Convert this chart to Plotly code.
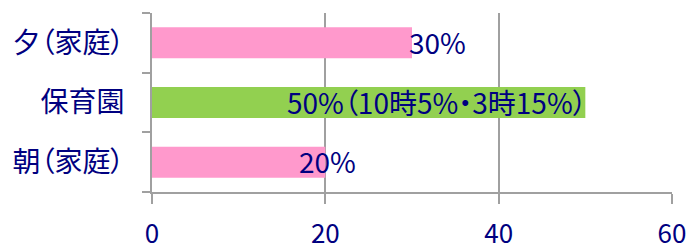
import plotly.graph_objects as go

categories = ["朝（家庭）", "保育園", "夕（家庭）"]
values = [20, 50, 30]
bar_colors = ["#FF99CC", "#92D050", "#FF99CC"]
labels = ["20%", "50%（10時5%・3時15%）", "30%"]
x_ticks = [0, 20, 40, 60]

FONT = "Noto Sans CJK JP"
NAVY = "#000080"
GRAY = "#A0A0A0"


def palt(s):
    return "<span style=\"font-feature-settings:'palt'\">" + s + "</span>"


fig = go.Figure(go.Bar(
    x=values, y=categories, orientation="h",
    marker=dict(color=bar_colors, line=dict(width=0)),
    width=0.52, hoverinfo="skip",
))

label_style = [
    dict(xanchor="center", xshift=2),
    dict(xanchor="right", xshift=4),
    dict(xanchor="left", xshift=-5),
]
for cat, v, t, st in zip(categories, values, labels, label_style):
    fig.add_annotation(x=v, y=cat, text=palt(t), showarrow=False,
                       font=dict(family=FONT, size=28, color=NAVY),
                       yanchor="middle", yshift=1, **st)

fig.update_layout(
    width=689, height=249,
    margin=dict(l=152, r=17, t=13, b=57),
    paper_bgcolor="white", plot_bgcolor="white",
    showlegend=False,
    font=dict(family=FONT, color=NAVY, size=22),
    xaxis=dict(range=[0, 60], tickvals=x_ticks, showgrid=True,
               gridcolor=GRAY, gridwidth=2, showline=True, linecolor=GRAY,
               linewidth=2, ticks="outside", ticklen=10, tickcolor=GRAY,
               tickwidth=2, zeroline=False, ticklabelstandoff=8,
               automargin=False,
               tickfont=dict(family=FONT, size=26, color=NAVY)),
    yaxis=dict(showgrid=False, showline=True, linecolor=GRAY, linewidth=2,
               ticks="outside", ticklen=8, tickcolor=GRAY, tickwidth=2,
               tickson="boundaries", ticklabelstandoff=20, automargin=False,
               tickmode="array", tickvals=categories,
               ticktext=[palt(c) for c in categories],
               tickfont=dict(family=FONT, size=28, color=NAVY)),
)

fig.write_html("out.html", config={"displayModeBar": False},
               post_script="document.body.style.margin='0';")
